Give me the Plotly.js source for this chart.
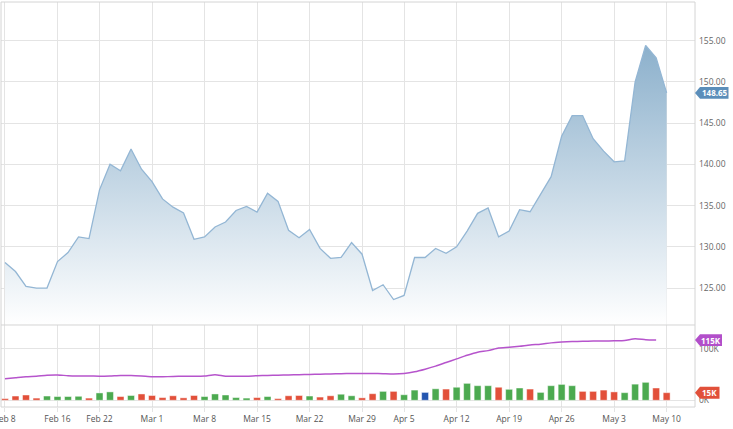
<!DOCTYPE html>
<html>
<head>
<meta charset="utf-8">
<script src="https://cdn.plot.ly/plotly-3.0.1.min.js"></script>
<style>html,body{margin:0;padding:0;background:#fff;}#chart{width:733px;height:429px;}</style>
</head>
<body>
<div id="chart"></div>
<script>
// trading days (categories)
const dates = ['2021-02-08','2021-02-09','2021-02-10','2021-02-11','2021-02-12',
'2021-02-16','2021-02-17','2021-02-18','2021-02-19',
'2021-02-22','2021-02-23','2021-02-24','2021-02-25','2021-02-26',
'2021-03-01','2021-03-02','2021-03-03','2021-03-04','2021-03-05',
'2021-03-08','2021-03-09','2021-03-10','2021-03-11','2021-03-12',
'2021-03-15','2021-03-16','2021-03-17','2021-03-18','2021-03-19',
'2021-03-22','2021-03-23','2021-03-24','2021-03-25','2021-03-26',
'2021-03-29','2021-03-30','2021-03-31','2021-04-01',
'2021-04-05','2021-04-06','2021-04-07','2021-04-08','2021-04-09',
'2021-04-12','2021-04-13','2021-04-14','2021-04-15','2021-04-16',
'2021-04-19','2021-04-20','2021-04-21','2021-04-22','2021-04-23',
'2021-04-26','2021-04-27','2021-04-28','2021-04-29','2021-04-30',
'2021-05-03','2021-05-04','2021-05-05','2021-05-06','2021-05-07',
'2021-05-10'];

const price = [128.1,127.0,125.2,125.0,125.0,128.2,129.3,131.2,131.0,136.9,
140.0,139.2,141.85,139.4,137.9,135.8,134.8,134.1,130.9,131.2,
132.4,133.0,134.4,134.9,134.2,136.5,135.5,132.0,131.1,132.1,
129.8,128.6,128.7,130.5,129.1,124.7,125.4,123.6,124.1,128.7,
128.7,129.8,129.2,130.0,131.9,134.05,134.7,131.2,131.9,134.5,
134.25,136.3,138.5,143.4,145.9,145.9,143.1,141.6,140.3,140.4,
150.0,154.4,152.9,148.65];

// volume in thousands
const volume = [3.2,8.2,10.2,4.2,8.2,7.2,7.2,7.7,4.2,14.2,
16.2,7.2,9.2,12.2,9.2,5.2,8.7,4.7,9.2,7.2,
12.2,10.2,5.2,4.2,5.2,7.2,3.2,8.7,9.2,8.2,
6.2,8.7,11.7,8.7,4.7,12.7,17.2,17.2,10.7,19.7,
15.2,22.2,21.7,25.2,32.7,28.2,28.2,25.2,21.2,23.7,
21.7,15.2,28.2,30.7,28.2,17.2,17.2,19.7,16.2,14.7,
31.2,34.7,23.7,14.7];

// d = down (red), u = up (green), n = neutral (blue)
const volDir = ['d','d','d','d','u','u','u','u','d','u',
'u','d','u','d','d','d','d','d','d','u',
'u','u','u','u','d','u','d','d','d','u',
'd','d','u','u','d','d','u','d','u','u',
'n','u','d','u','u','u','u','d','u','u',
'd','u','u','u','u','d','d','d','d','u',
'u','u','d','d'];

// open interest in thousands (one day shorter)
const openInterest = [41.5,43.5,45.5,46.5,48.5,49,47.5,47,47,46.5,
47,48,48,47,45.5,45.5,46,46.5,46.5,47,
49.5,46.5,46.5,46.5,47.5,48,48.5,49,49.5,50,
50.5,51,51.5,52,52,52,51.5,51,52,55,
60,66,73,80,87,93,96,101,102.5,104.5,
107,108.5,111,112.5,113.5,114,114.5,114.5,115,115.5,
119,117,116.5];

const xTickVals = ['2021-02-08','2021-02-16','2021-02-22','2021-03-01','2021-03-08','2021-03-15',
'2021-03-22','2021-03-29','2021-04-05','2021-04-12','2021-04-19','2021-04-26','2021-05-03','2021-05-10'];
const xTickText = ['Feb 8','Feb 16','Feb 22','Mar 1','Mar 8','Mar 15','Mar 22','Mar 29',
'Apr 5','Apr 12','Apr 19','Apr 26','May 3','May 10'];
const priceTicks = [125,130,135,140,145,150,155];
const volTicks = [0,100];
const volTickText = ['0K','100K'];
const badgeLabels = ['148.65','115K','15K'];

const dirColor = {d:'#e2503a', u:'#4caa50', n:'#2456b0'};
const grid = '#e4e4e4';
const border = '#d4d4d4';
const W = 733, ML = 1, MR = 38;
const PW = W - ML - MR;
const px = p => (p - ML) / PW;
const split = 0.2025;

const traces = [
  {
    x: dates, y: price, type:'scatter', mode:'lines',
    xaxis:'x', yaxis:'y',
    line:{color:'#93b6d4', width:1.3},
    fill:'tozeroy',
    fillgradient:{type:'vertical', start:120.5, stop:155,
      colorscale:[[0,'#ffffff'],[1,'#8aafcb']]},
    hoverinfo:'skip'
  },
  {
    x: dates, y: volume, type:'bar', xaxis:'x', yaxis:'y2',
    width: 0.66,
    marker:{color: volDir.map(d => dirColor[d]), line:{color:'rgba(255,255,255,0.45)', width:1}},
    hoverinfo:'skip'
  },
  {
    x: dates.slice(0, openInterest.length), y: openInterest, type:'scatter', mode:'lines',
    xaxis:'x', yaxis:'y2',
    line:{color:'#b654cc', width:1.5, shape:'spline', smoothing:0.6},
    hoverinfo:'skip'
  }
];

const lastP = price[price.length-1];
const lastOI = openInterest[openInterest.length-1];
const lastV = volume[volume.length-1];
const pxPerPrice = 8.25, pxPerK = 0.517;

function badge(yref, yc, halfPx, unitPx, rightPx, color){
  const h = halfPx / unitPx;
  const x0 = px(695), x1 = px(700), x2 = px(rightPx);
  return {type:'path', xref:'paper', yref:yref, layer:'above',
    path:`M ${x0},${yc} L ${x1},${yc+h} L ${x2},${yc+h} L ${x2},${yc-h} L ${x1},${yc-h} Z`,
    fillcolor:color, line:{width:0}};
}

const shapes = [
  {type:'rect', xref:'paper', yref:'paper', x0:0, x1:1, y0:0, y1:1, line:{color:border, width:1}, layer:'above'},
  {type:'line', xref:'paper', yref:'paper', x0:0, x1:1, y0:split, y1:split, line:{color:border, width:1}, layer:'above'},
  badge('y', lastP, 5.9, pxPerPrice, 728.5, '#5b8eba'),
  badge('y2', lastOI, 5.9, pxPerK, 722, '#b24fca'),
  badge('y2', lastV, 6, pxPerK, 719.5, '#e1503a')
];

const bf = {family:'Open Sans, sans-serif', size:8, color:'#ffffff', weight:700};
const annotations = [
  {xref:'paper', yref:'y', x:px(714.5), y:lastP, text:'<b>'+badgeLabels[0]+'</b>', showarrow:false, font:bf, xanchor:'center', yanchor:'middle'},
  {xref:'paper', yref:'y2', x:px(711), y:lastOI, text:'<b>'+badgeLabels[1]+'</b>', showarrow:false, font:bf, xanchor:'center', yanchor:'middle'},
  {xref:'paper', yref:'y2', x:px(709.7), y:lastV, text:'<b>'+badgeLabels[2]+'</b>', showarrow:false, font:bf, xanchor:'center', yanchor:'middle'}
];

const layout = {
  width: W, height: 429,
  margin:{l:ML, r:MR, t:2, b:22, pad:0},
  paper_bgcolor:'#ffffff', plot_bgcolor:'#ffffff',
  showlegend:false, bargap:0,
  font:{family:'Open Sans, sans-serif', size:8.5, color:'#555'},
  xaxis:{
    type:'category', anchor:'y2', range:[-0.38, 65.7],
    tickmode:'array', tickvals:xTickVals, ticktext:xTickText,
    showgrid:true, gridcolor:grid, gridwidth:1,
    ticks:'outside', ticklen:4, tickcolor:grid,
    tickfont:{family:'Open Sans, sans-serif', size:8.5, color:'#555'},
    zeroline:false, showline:false, fixedrange:true
  },
  yaxis:{
    domain:[split, 1], side:'right', anchor:'x',
    range:[120.52, 159.67],
    tickmode:'array', tickvals:priceTicks, ticktext:priceTicks.map(v => v.toFixed(2)),
    showgrid:true, gridcolor:grid, gridwidth:1, ticks:'', zeroline:false,
    ticklabelstandoff:3,
    tickfont:{family:'Open Sans, sans-serif', size:8.5, color:'#666'}
  },
  yaxis2:{
    domain:[0, split], side:'right', anchor:'x',
    range:[-13, 145.6],
    tickmode:'array', tickvals:volTicks, ticktext:volTickText,
    showgrid:true, gridcolor:grid, gridwidth:1, ticks:'', zeroline:false,
    ticklabelstandoff:3,
    tickfont:{family:'Open Sans, sans-serif', size:8.5, color:'#666'}
  },
  shapes: shapes,
  annotations: annotations
};

Plotly.newPlot('chart', traces, layout, {staticPlot:true, displayModeBar:false});
</script>
</body>
</html>
